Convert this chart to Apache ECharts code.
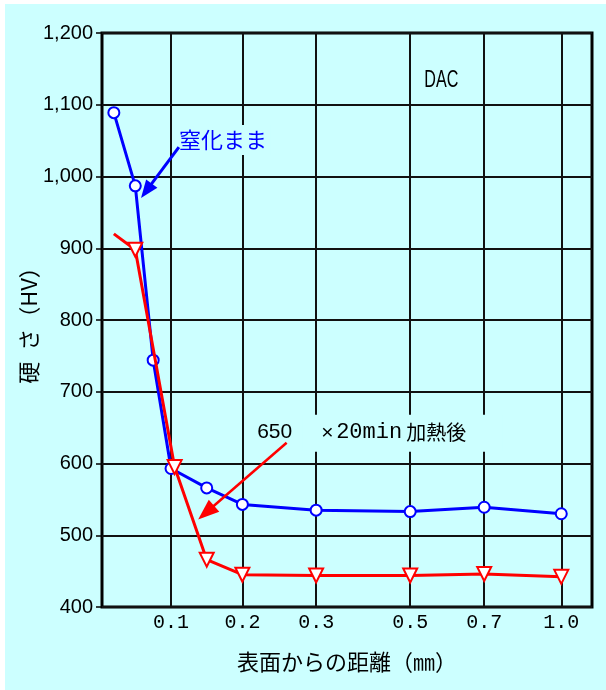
<!DOCTYPE html>
<html><head><meta charset="utf-8">
<script src="https://cdn.jsdelivr.net/npm/echarts@6/dist/echarts.min.js"></script>
<style>
html,body{margin:0;padding:0;background:#fff;width:606px;height:690px;overflow:hidden}
#c{position:absolute;left:5px;top:4px;width:601px;height:686px}
</style></head>
<body><div id="c"></div>
<script>
// ---- data ----
const xTickMM = [0.1, 0.2, 0.3, 0.5, 0.7, 1.0];
const xTickLabels = ['0.1', '0.2', '0.3', '0.5', '0.7', '1.0'];
const yTicks = [400, 500, 600, 700, 800, 900, 1000, 1100, 1200];
const nitridedMM = [0.02, 0.05, 0.075, 0.1, 0.15, 0.2, 0.3, 0.5, 0.7, 1.0];
const nitridedHV = [1089, 987, 744, 593, 566, 543, 535, 533, 539, 530];
const heatedMM = [0.02, 0.05, 0.105, 0.15, 0.2, 0.3, 0.5, 0.7, 1.0];
const heatedHV = [920, 898, 595, 466, 445, 444, 444, 446, 442];
const nitridedName = '窒化まま';
const heatedName = '650　×20min加熱後';

// ---- hand-spaced distance scale of the original axis (mm -> fraction of axis length) ----
const scaleMM = [0, 0.1, 0.2, 0.3, 0.5, 0.7, 1.0];
const scaleFrac = [-0.005, 0.1409, 0.2865, 0.437, 0.629, 0.780, 0.9373];
function toPos(mm) {
  let i = 0;
  while (i < scaleMM.length - 2 && mm > scaleMM[i + 1]) i++;
  const t = (mm - scaleMM[i]) / (scaleMM[i + 1] - scaleMM[i]);
  return scaleFrac[i] + t * (scaleFrac[i + 1] - scaleFrac[i]);
}
const tickPos = xTickMM.map(toPos);

const CYAN = '#ccffff';
const chart = echarts.init(document.getElementById('c'), null, {renderer: 'canvas'});

const option = {
  animation: false,
  backgroundColor: CYAN,
  grid: {left: 97, right: 14, top: 29, bottom: 83, outerBoundsMode: 'none', containLabel: false,
         show: true, borderColor: '#000', borderWidth: 3, backgroundColor: 'transparent'},
  xAxis: {
    type: 'value', min: 0, max: 1,
    axisLine: {show: false},
    axisTick: {show: false, customValues: tickPos},
    axisLabel: {
      customValues: tickPos,
      formatter: v => {
        let best = 0;
        tickPos.forEach((p, i) => { if (Math.abs(p - v) < Math.abs(tickPos[best] - v)) best = i; });
        return xTickLabels[best];
      },
      fontFamily: 'Liberation Mono', fontSize: 20, color: '#000', margin: 6
    },
    splitLine: {show: true, lineStyle: {color: '#111', width: 2}},
    name: '表面からの距離（㎜）', nameLocation: 'middle', nameGap: 44, nameMoveOverlap: false,
    nameTextStyle: {fontFamily: 'Noto Sans CJK JP', fontSize: 22, color: '#000'}
  },
  yAxis: {
    type: 'value', min: yTicks[0], max: yTicks[yTicks.length - 1], interval: 100,
    axisLine: {show: false},
    axisTick: {show: true, length: 6, lineStyle: {color: '#000', width: 1.5}},
    axisLabel: {formatter: v => v.toLocaleString('en-US'), fontFamily: 'Liberation Sans', fontSize: 20, color: '#000', margin: 9},
    splitLine: {show: true, lineStyle: {color: '#111', width: 2}},
    name: '硬\u2002さ（HV）', nameLocation: 'middle', nameGap: 62, nameRotate: 90, nameMoveOverlap: false,
    nameTextStyle: {fontFamily: 'Noto Sans CJK JP', fontSize: 22, color: '#000'}
  },
  series: [
    {
      type: 'line', name: nitridedName, z: 3,
      data: nitridedMM.map((m, i) => [toPos(m), nitridedHV[i]]),
      symbol: 'circle', symbolSize: 11,
      lineStyle: {color: '#0000ff', width: 3},
      itemStyle: {color: '#ffffff', borderColor: '#0000ff', borderWidth: 2}
    },
    {
      type: 'line', name: heatedName, z: 4,
      data: heatedMM.map((m, i) => i === 0 ? {value: [toPos(m), heatedHV[i]], symbol: 'none'} : [toPos(m), heatedHV[i]]),
      symbol: 'triangle', symbolRotate: 180, symbolSize: 14,
      lineStyle: {color: '#ff0000', width: 3},
      itemStyle: {color: '#ffffff', borderColor: '#ff0000', borderWidth: 2}
    }
  ]
};
chart.setOption(option);

// ---- annotations (anchored in data units: mm, HV) ----
const annDAC = [0.538, 1134];
const annBlueText = [0.111, 1051];
const annBlueArrow = [[0.111, 1041], [0.058, 970]];
const annRedText = [0.220, 643];
const annRedArrow = [[0.260, 629], [0.138, 522]];

const px = p => chart.convertToPixel({gridIndex: 0}, [toPos(p[0]), p[1]]);
function arrow(a, b, color, w, L, W) {
  const s = px(a), t = px(b);
  const dx = t[0] - s[0], dy = t[1] - s[1], len = Math.hypot(dx, dy);
  const ux = dx / len, uy = dy / len;
  const bx = t[0] - ux * L, by = t[1] - uy * L;
  return [
    {type: 'line', z: 20, shape: {x1: s[0], y1: s[1], x2: bx + ux * 2, y2: by + uy * 2}, style: {stroke: color, lineWidth: w}},
    {type: 'polygon', z: 20, shape: {points: [[t[0], t[1]], [bx - uy * W, by + ux * W], [bx + uy * W, by - ux * W]]}, style: {fill: color}}
  ];
}
const d = px(annDAC), bt = px(annBlueText), rt = px(annRedText);
const graphics = [
  {type: 'text', z: 20, x: d[0], y: d[1], scaleX: 0.7, style: {text: 'DAC', x: 0, y: 0, fontFamily: 'Liberation Sans', fontSize: 23, fill: '#000', verticalAlign: 'middle', align: 'left'}},
  {type: 'rect', z: 19, shape: {x: bt[0] - 4, y: bt[1] - 15, width: 96, height: 30}, style: {fill: CYAN}},
  {type: 'text', z: 20, x: bt[0], y: bt[1], style: {text: nitridedName, x: 0, y: 0, fontFamily: 'Noto Sans CJK JP', fontSize: 22, fill: '#0000ff', verticalAlign: 'middle', align: 'left'}},
  {type: 'rect', z: 19, shape: {x: rt[0] + 45, y: rt[1] - 18, width: 200, height: 37}, style: {fill: CYAN}},
  {type: 'text', z: 20, x: rt[0], y: rt[1], style: {text: '650', x: 0, y: 0, fontFamily: 'Liberation Sans', fontSize: 21, fill: '#000', verticalAlign: 'middle', align: 'left'}},
  {type: 'text', z: 20, x: rt[0] + 64, y: rt[1] + 1, style: {text: '×', x: 0, y: 0, fontFamily: 'Liberation Sans', fontSize: 21, fill: '#000', verticalAlign: 'middle', align: 'left'}},
  {type: 'text', z: 20, x: rt[0] + 79, y: rt[1], style: {text: '20min', x: 0, y: 0, fontFamily: 'Liberation Mono', fontSize: 22, fill: '#000', verticalAlign: 'middle', align: 'left'}},
  {type: 'text', z: 20, x: rt[0] + 149, y: rt[1], style: {text: '加熱後', x: 0, y: 0, fontFamily: 'Noto Sans CJK JP', fontSize: 20, fill: '#000', verticalAlign: 'middle', align: 'left'}}
].concat(arrow(annBlueArrow[0], annBlueArrow[1], '#0000ff', 3, 18, 7))
 .concat(arrow(annRedArrow[0], annRedArrow[1], '#ff0000', 2.5, 21, 8));
chart.setOption({graphic: graphics});
</script>
</body></html>
